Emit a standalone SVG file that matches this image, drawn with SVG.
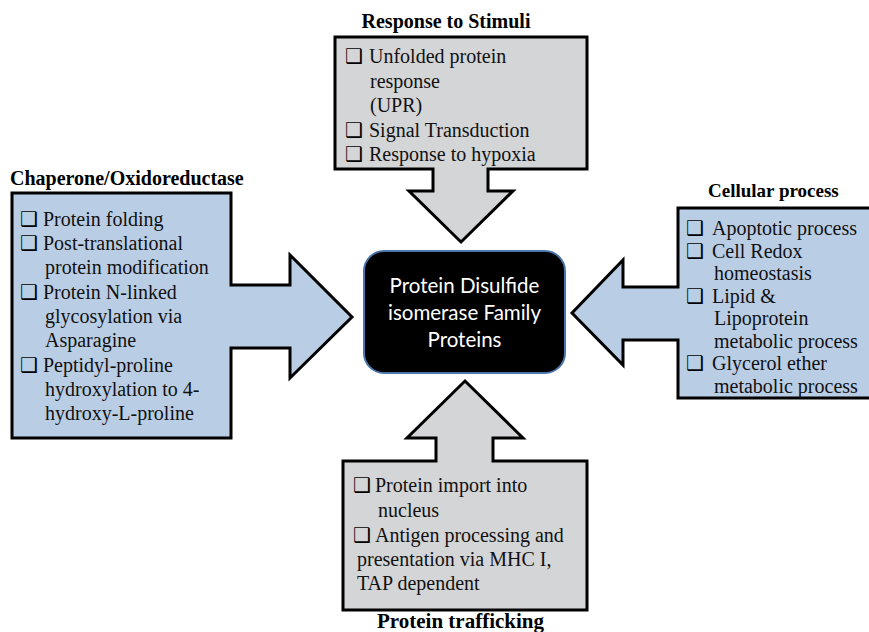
<svg xmlns="http://www.w3.org/2000/svg" width="869" height="632" viewBox="0 0 869 632">
<style>
.gray{fill:#d4d5d7;stroke:#000;stroke-width:3;stroke-linejoin:miter}
.blue{fill:#b9cde5;stroke:#000;stroke-width:3;stroke-linejoin:miter}
.t{font-family:"Liberation Serif","Times New Roman",serif;font-size:20px;fill:#111}
.h{font-family:"Liberation Serif","Times New Roman",serif;font-size:20px;font-weight:bold;fill:#000}
.b{font-family:"DejaVu Sans",sans-serif;font-size:20px;fill:#000}
.c{font-family:Lato,"Open Sans",sans-serif;font-size:20.5px;fill:#fff;text-anchor:middle}
</style>
<rect width="869" height="632" fill="#fff"/>
<g id="connectors">
<g id="top-arrow">
<path class="gray" d="M335,37 H587 V169 H488 V191 H513 L461,242 L409,191 H433 V169 H335 Z"/>
</g>
<g id="left-arrow">
<path class="blue" d="M12,193 H231 V285 H290 V255 L352,317 L290,378 V348 H231 V438 H12 Z"/>
</g>
<g id="right-arrow">
<path class="blue" d="M678,208 H885 V398 H678 V340 H623 V365 L572,313 L623,260 V287 H678 Z"/>
</g>
<g id="bottom-arrow">
<path class="gray" d="M343,461 H436 V438 H407 L465,381 L523,438 H493 V461 H587 V610 H343 Z"/>
</g>
</g>
<g id="center">
<rect x="364" y="251" width="201" height="122" rx="20" ry="20" fill="#000" stroke="#4a76ad" stroke-width="2"/>
<text class="c" x="464.5" y="293">Protein Disulfide</text>
<text class="c" x="464.5" y="320">isomerase Family</text>
<text class="c" x="464.5" y="347">Proteins</text>
</g>
<g id="response">
<text class="h" x="446" y="28" text-anchor="middle">Response to Stimuli</text>
<text class="b" x="345" y="63">❑</text><text class="t" x="369" y="63">Unfolded protein</text>
<text class="t" x="370" y="88">response</text>
<text class="t" x="370" y="112">(UPR)</text>
<text class="b" x="345" y="137">❑</text><text class="t" x="369" y="137">Signal Transduction</text>
<text class="b" x="345" y="161">❑</text><text class="t" x="369" y="161">Response to hypoxia</text>
</g>
<g id="chaperone">
<text class="h" x="10" y="185">Chaperone/Oxidoreductase</text>
<text class="b" x="20" y="226">❑</text><text class="t" x="43" y="226">Protein folding</text>
<text class="b" x="20" y="250">❑</text><text class="t" x="43" y="250">Post-translational</text>
<text class="t" x="45" y="274">protein modification</text>
<text class="b" x="20" y="299">❑</text><text class="t" x="43" y="299">Protein N-linked</text>
<text class="t" x="45" y="323">glycosylation via</text>
<text class="t" x="45" y="347">Asparagine</text>
<text class="b" x="20" y="372">❑</text><text class="t" x="43" y="372">Peptidyl-proline</text>
<text class="t" x="45" y="396">hydroxylation to 4-</text>
<text class="t" x="45" y="420">hydroxy-L-proline</text>
</g>
<g id="cellular">
<text class="h" x="708" y="197" style="font-size:19px">Cellular process</text>
<text class="b" x="686" y="235">❑</text><text class="t" x="712" y="235">Apoptotic process</text>
<text class="b" x="686" y="258">❑</text><text class="t" x="712" y="258">Cell Redox</text>
<text class="t" x="714" y="280">homeostasis</text>
<text class="b" x="686" y="303">❑</text><text class="t" x="712" y="303">Lipid &amp;</text>
<text class="t" x="714" y="325">Lipoprotein</text>
<text class="t" x="714" y="348">metabolic process</text>
<text class="b" x="686" y="370">❑</text><text class="t" x="712" y="370">Glycerol ether</text>
<text class="t" x="714" y="393">metabolic process</text>
</g>
<g id="trafficking">
<text class="b" x="353" y="492">❑</text><text class="t" x="375" y="492">Protein import into</text>
<text class="t" x="378" y="517">nucleus</text>
<text class="b" x="353" y="542">❑</text><text class="t" x="375" y="542">Antigen processing and</text>
<text class="t" x="357" y="566">presentation via MHC I,</text>
<text class="t" x="357" y="590">TAP dependent</text>
<text class="h" x="377" y="628" style="font-size:21px">Protein trafficking</text>
</g>
</svg>
